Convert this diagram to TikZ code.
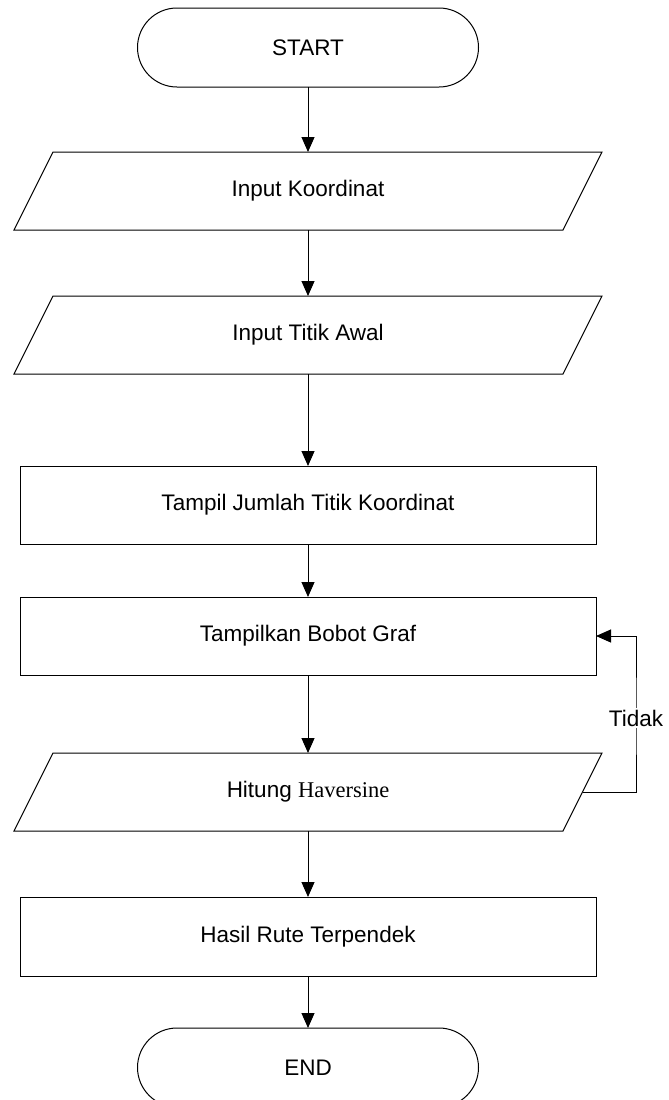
\documentclass[tikz,border=0pt]{standalone}
\usepackage{fontspec}
\setmainfont{Liberation Sans}
\newfontfamily\timesfam{Liberation Serif}
\usetikzlibrary{arrows.meta}
\begin{document}
\begin{tikzpicture}[x=1pt,y=-1pt,
  every node/.style={font=\fontsize{22.5}{26}\selectfont, inner sep=0pt, outer sep=0pt},
  term/.style={draw, line width=1pt, rectangle, rounded corners=39.5pt, minimum width=341pt, minimum height=79pt},
  iobox/.style={rectangle, minimum width=588pt, minimum height=78pt},
  ioedge/.style={line width=1pt},
  procbox/.style={draw, line width=1pt, rectangle, minimum width=576pt, minimum height=78pt},
  flow/.style={line width=1pt, -{Triangle[length=15pt,width=13pt]}}
]
\useasboundingbox (0,0) rectangle (669,1100);
\node[term] (start) at (308,47.5) {START};
\node[iobox] (in1) at (308,191) {Input Koordinat};
\node[iobox] (in2) at (308,335) {Input Titik Awal};
\node[procbox] (p1) at (308,505) {Tampil Jumlah Titik Koordinat};
\node[procbox] (p2) at (308,636) {Tampilkan Bobot Graf};
\node[iobox] (hit) at (308,792) {Hitung {\timesfam Haversine}};
\node[procbox, minimum height=79pt] (hasil) at (308,936.5) {Hasil Rute Terpendek};
\node[term] (end) at (308,1067.5) {END};
\foreach \n in {in1,in2,hit}{
  \draw[ioedge] ([xshift=39pt]\n.north west) -- (\n.north east) -- ([xshift=-39pt]\n.south east) -- (\n.south west) -- cycle;
}
\coordinate (lp) at (636,718);
\draw[flow] (start) -- (in1);
\draw[flow] (in1) -- (in2);
\draw[flow] (in2) -- (p1);
\draw[flow] (p1) -- (p2);
\draw[flow] (p2) -- (hit);
\draw[flow] (hit) -- (hasil);
\draw[flow] (hasil) -- (end);
\draw[flow] ([xshift=-19.5pt]hit.east) -| (lp) |- (p2.east);
\node[fill=white, inner sep=2pt] (tidak) at (lp) {Tidak};
\end{tikzpicture}
\end{document}
